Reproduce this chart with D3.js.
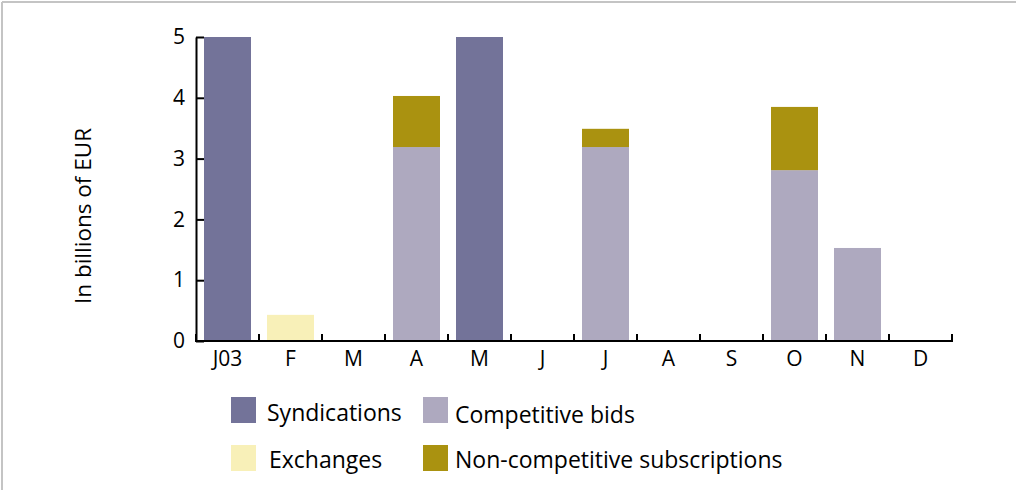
<!DOCTYPE html>
<html>
<head>
<meta charset="utf-8">
<script src="https://cdn.jsdelivr.net/npm/d3@7"></script>
<style>
  body { margin: 0; background: #fff; }
  svg { display: block; font-family: "Open Sans", sans-serif; }
</style>
</head>
<body>
<div id="vis"></div>
<script>
// month labels (J03 = January 2003)
const months = ['J03', 'F', 'M', 'A', 'M', 'J', 'J', 'A', 'S', 'O', 'N', 'D'];

// issuance per month, billions of EUR
const syndications    = [5.0, 0,    0, 0,    5.0, 0, 0,    0, 0, 0,    0,    0];
const exchanges       = [0,   0.43, 0, 0,    0,   0, 0,    0, 0, 0,    0,    0];
const competitiveBids = [0,   0,    0, 3.19, 0,   0, 3.19, 0, 0, 2.81, 1.53, 0];
const nonCompetitive  = [0,   0,    0, 0.84, 0,   0, 0.30, 0, 0, 1.04, 0,    0];

const yTicks = [0, 1, 2, 3, 4, 5];

const seriesKeys = ['syn', 'exc', 'comp', 'noncomp'];
const seriesNames = {
  syn: 'Syndications',
  exc: 'Exchanges',
  comp: 'Competitive bids',
  noncomp: 'Non-competitive subscriptions'
};
const colors = {
  syn: '#737399',
  exc: '#f8f0b8',
  comp: '#aea9bf',
  noncomp: '#aa9210'
};

const width = 1016;
const height = 490;

const svg = d3.select('#vis')
  .append('svg')
  .attr('width', width)
  .attr('height', height);

// light frame on top and left edges
svg.append('line')
  .attr('x1', 2).attr('x2', width).attr('y1', 2).attr('y2', 2)
  .attr('stroke', '#c4c4c4').attr('stroke-width', 2);
svg.append('line')
  .attr('x1', 2).attr('x2', 2).attr('y1', 2).attr('y2', height)
  .attr('stroke', '#c4c4c4').attr('stroke-width', 2);

// build table for d3.stack
const table = months.map((m, i) => ({
  i: i,
  syn: syndications[i],
  exc: exchanges[i],
  comp: competitiveBids[i],
  noncomp: nonCompetitive[i]
}));

const stacked = d3.stack().keys(seriesKeys)(table);

const x = d3.scaleBand()
  .domain(d3.range(months.length))
  .range([196, 952])
  .paddingInner(0.254)
  .paddingOuter(0.127);

const y = d3.scaleLinear()
  .domain([0, 5])
  .range([341, 37]);

// bars
svg.append('g')
  .selectAll('g')
  .data(stacked)
  .join('g')
  .attr('fill', d => colors[d.key])
  .selectAll('rect')
  .data(d => d.filter(p => p[1] - p[0] > 0))
  .join('rect')
  .attr('x', d => x(d.data.i))
  .attr('width', x.bandwidth())
  .attr('y', d => y(d[1]))
  .attr('height', d => y(d[0]) - y(d[1]));

// y axis, ticks pointing inward
const yAxis = svg.append('g')
  .attr('transform', 'translate(196,0)')
  .call(d3.axisLeft(y)
    .tickValues(yTicks)
    .tickFormat(d3.format('d'))
    .tickSizeInner(-8)
    .tickSizeOuter(0)
    .tickPadding(11));
yAxis.select('.domain').attr('stroke-width', 2);
yAxis.selectAll('.tick line').attr('stroke-width', 2);
yAxis.selectAll('text')
  .attr('font-family', '"Open Sans", sans-serif')
  .attr('font-size', 21)
  .attr('fill', '#000');

// x axis: line, boundary ticks, month labels
const xg = svg.append('g');
xg.append('line')
  .attr('x1', x.range()[0] - 1).attr('x2', x.range()[1] + 1)
  .attr('y1', y(0)).attr('y2', y(0))
  .attr('stroke', '#000').attr('stroke-width', 2);

const bounds = d3.range(months.length + 1).map(k => x.range()[0] + k * x.step());
xg.selectAll('.bound')
  .data(bounds)
  .join('line')
  .attr('class', 'bound')
  .attr('x1', d => d).attr('x2', d => d)
  .attr('y1', y(0)).attr('y2', y(0) - 7)
  .attr('stroke', '#000').attr('stroke-width', 2);

xg.selectAll('.mlabel')
  .data(months)
  .join('text')
  .attr('class', 'mlabel')
  .attr('x', (d, i) => x(i) + x.bandwidth() / 2)
  .attr('y', 366)
  .attr('text-anchor', 'middle')
  .attr('font-size', 21)
  .text(d => d);

// y axis title
svg.append('text')
  .attr('transform', 'translate(91,216) rotate(-90)')
  .attr('text-anchor', 'middle')
  .attr('font-size', 22.5)
  .text('In billions of EUR');

// legend
const legendItems = [
  { key: 'syn', sx: 231, sy: 397, tx: 267, ty: 421 },
  { key: 'comp', sx: 423, sy: 397, tx: 455, ty: 423 },
  { key: 'exc', sx: 231, sy: 445, tx: 269, ty: 468 },
  { key: 'noncomp', sx: 423, sy: 445, tx: 455, ty: 468 }
];

const legend = svg.append('g')
  .selectAll('g')
  .data(legendItems)
  .join('g');

legend.append('rect')
  .attr('x', d => d.sx)
  .attr('y', d => d.sy)
  .attr('width', 25)
  .attr('height', 26)
  .attr('fill', d => colors[d.key]);

legend.append('text')
  .attr('x', d => d.tx)
  .attr('y', d => d.ty)
  .attr('font-size', 23)
  .text(d => seriesNames[d.key]);
</script>
</body>
</html>
